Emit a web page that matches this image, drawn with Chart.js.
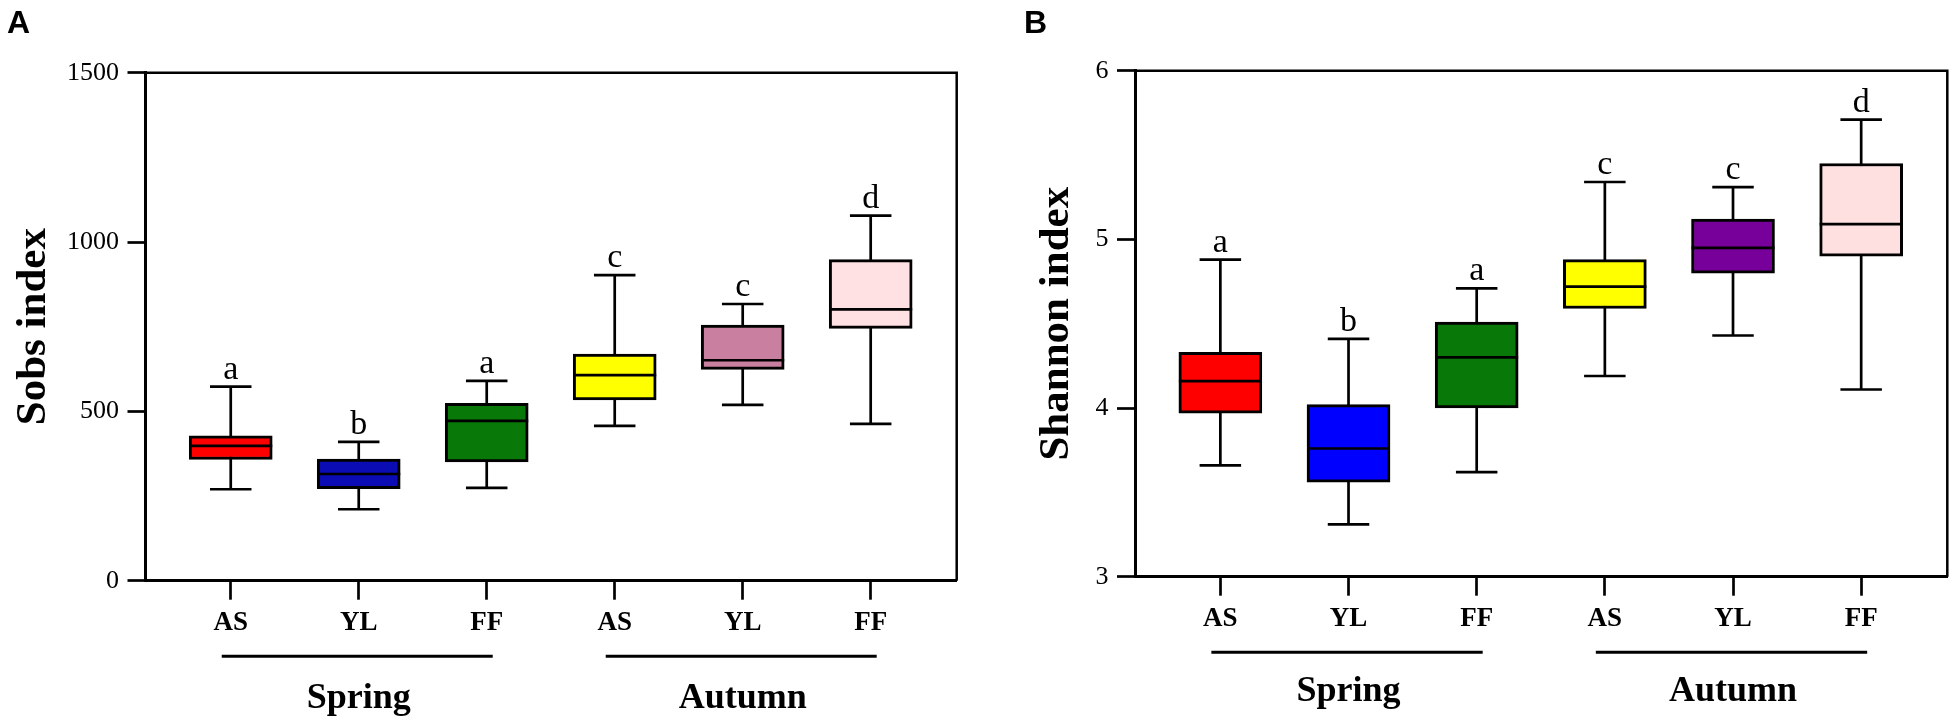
<!DOCTYPE html>
<html>
<head>
<meta charset="utf-8">
<script src="https://cdn.jsdelivr.net/npm/chart.js@4.4.0/dist/chart.umd.min.js"></script>
<style>
  body { margin: 0; background: #fff; }
  #wrap { position: relative; width: 1955px; height: 719px; overflow: hidden; background: #fff; }
  .panel { position: absolute; top: 0; }
  .tag { position: absolute; top: 6px; font: bold 32px "Liberation Sans", Arial, sans-serif; line-height: 32px; color: #000; }
</style>
</head>
<body>
<div id="wrap">
  <div class="panel" style="left:0px"><canvas id="chart-a" width="980" height="719"></canvas></div>
  <div class="panel" style="left:980px"><canvas id="chart-b" width="975" height="719"></canvas></div>
  <div class="tag" style="left:7px">A</div>
  <div class="tag" style="left:1024px">B</div>
</div>
<script>
// Nhóm mẫu và mùa
const groups = ["AS", "YL", "FF", "AS", "YL", "FF"];
const seasons = ["Spring", "Autumn"];
const seasonCenter = [1, 4];
const seasonSpan = [[0, 2], [3, 5]];

// Sobs index (A)
const sobsMin = [270, 211, 274, 457, 519, 463];
const sobsQ1 = [358, 272, 351, 534, 624, 745];
const sobsMedian = [398, 315, 472, 607, 651, 801];
const sobsQ3 = [428, 359, 524, 669, 755, 948];
const sobsMax = [573, 410, 590, 902, 817, 1078];
const sobsLetters = ["a", "b", "a", "c", "c", "d"];
const sobsTicks = [0, 500, 1000, 1500];
const sobsColors = ["#ff0000", "#0c0cb4", "#087808", "#ffff00", "#c87fa0", "#ffe0e3"];

// Shannon index (B)
const shannonMin = [3.66, 3.31, 3.62, 4.19, 4.43, 4.11];
const shannonQ1 = [3.97, 3.56, 4.00, 4.59, 4.80, 4.90];
const shannonMedian = [4.16, 3.76, 4.30, 4.72, 4.95, 5.09];
const shannonQ3 = [4.33, 4.02, 4.51, 4.88, 5.12, 5.45];
const shannonMax = [4.88, 4.41, 4.71, 5.34, 5.31, 5.71];
const shannonLetters = ["a", "b", "a", "c", "c", "d"];
const shannonTicks = [3, 4, 5, 6];
const shannonColors = ["#ff0000", "#0000ff", "#087808", "#ffff00", "#78009a", "#ffe0e0"];

const serif = '"Liberation Serif", "Times New Roman", serif';
Chart.defaults.font.family = serif;
Chart.defaults.color = "#000";

// Vẽ râu, trung vị, chữ cái và khung
const boxExtras = {
    id: "boxExtras",
    beforeDatasetsDraw(chart, args, opts) {
        const { ctx } = chart;
        const x = chart.scales.x, y = chart.scales.y;
        ctx.save();
        ctx.strokeStyle = "#000";
        ctx.lineWidth = 2.7;
        opts.min.forEach((lo, i) => {
            const px = x.getPixelForValue(i);
            ctx.beginPath();
            ctx.moveTo(px, y.getPixelForValue(lo));
            ctx.lineTo(px, y.getPixelForValue(opts.max[i]));
            ctx.stroke();
        });
        ctx.restore();
    },
    afterDatasetsDraw(chart, args, opts) {
        const { ctx, chartArea } = chart;
        const x = chart.scales.x, y = chart.scales.y;
        const bars = chart.getDatasetMeta(0).data;
        ctx.save();
        ctx.strokeStyle = "#000";
        ctx.fillStyle = "#000";
        ctx.lineWidth = 2.7;
        opts.min.forEach((lo, i) => {
            const px = x.getPixelForValue(i);
            const half = bars[i].width / 2;
            const cap = half / 2;
            [lo, opts.max[i]].forEach(v => {
                const py = y.getPixelForValue(v);
                ctx.beginPath();
                ctx.moveTo(px - cap, py);
                ctx.lineTo(px + cap, py);
                ctx.stroke();
            });
            const pm = y.getPixelForValue(opts.median[i]);
            ctx.beginPath();
            ctx.moveTo(px - half, pm);
            ctx.lineTo(px + half, pm);
            ctx.stroke();
            ctx.font = "34px " + serif;
            ctx.textAlign = "center";
            ctx.textBaseline = "alphabetic";
            ctx.fillText(opts.letters[i], px, y.getPixelForValue(opts.max[i]) - 8);
        });
        // khung trên và phải
        ctx.lineWidth = 2.5;
        ctx.beginPath();
        ctx.moveTo(chartArea.left, chartArea.top);
        ctx.lineTo(chartArea.right, chartArea.top);
        ctx.lineTo(chartArea.right, chartArea.bottom);
        ctx.stroke();
        // gạch dưới theo mùa
        ctx.lineWidth = 3;
        const ly = chartArea.bottom + 75.5;
        seasonSpan.forEach(([a, b]) => {
            ctx.beginPath();
            ctx.moveTo(x.getPixelForValue(a) - 9, ly);
            ctx.lineTo(x.getPixelForValue(b) + 6, ly);
            ctx.stroke();
        });
        ctx.restore();
    }
};

function makeBoxChart(id, cfg) {
    const ctx = document.getElementById(id).getContext("2d");
    return new Chart(ctx, {
        type: "bar",
        data: {
            datasets: [{
                data: groups.map((g, i) => ({ x: i, y: [cfg.q1[i], cfg.q3[i]] })),
                backgroundColor: cfg.colors,
                borderColor: "#000",
                borderWidth: 3,
                borderSkipped: false,
                barThickness: 83,
            }]
        },
        options: {
            responsive: false,
            animation: false,
            layout: { padding: cfg.padding },
            plugins: {
                legend: { display: false },
                tooltip: { enabled: false },
                boxExtras: { min: cfg.min, max: cfg.max, median: cfg.median, letters: cfg.letters },
            },
            scales: {
                x: {
                    type: "linear", min: -0.666, max: 5.672, weight: 0, offset: false,
                    afterFit: s => { s.height = 60; },
                    afterBuildTicks: s => { s.ticks = groups.map((g, i) => ({ value: i })); },
                    ticks: {
                        callback: v => groups[v],
                        color: "#000",
                        font: { size: 27, weight: "bold" },
                        padding: 7.5, maxRotation: 0, autoSkip: false,
                    },
                    grid: { offset: false, drawOnChartArea: false, tickLength: 19, tickWidth: 2.7, tickColor: "#000" },
                    border: { color: "#000", width: 3 },
                },
                x2: {
                    type: "linear", position: "bottom", min: -0.666, max: 5.672, weight: 1, offset: false,
                    afterFit: s => { s.height = cfg.x2Height; },
                    afterBuildTicks: s => { s.ticks = seasonCenter.map(v => ({ value: v })); },
                    ticks: {
                        callback: v => seasons[seasonCenter.indexOf(v)],
                        color: "#000",
                        font: { size: 36, weight: "bold" },
                        padding: cfg.x2Pad, maxRotation: 0, autoSkip: false,
                    },
                    grid: { display: false, offset: false },
                    border: { display: false },
                },
                y: {
                    min: cfg.ticks[0], max: cfg.ticks[cfg.ticks.length - 1],
                    afterFit: s => { s.width = cfg.yWidth; },
                    afterBuildTicks: s => { s.ticks = cfg.ticks.map(v => ({ value: v })); },
                    ticks: { callback: v => String(v), color: "#000", font: { size: 26 }, padding: 8.5 },
                    grid: { drawOnChartArea: false, tickLength: 18, tickWidth: 2.7, tickColor: "#000" },
                    border: { color: "#000", width: 3 },
                    title: {
                        display: true, text: cfg.title, color: "#000",
                        font: { size: 43, weight: "bold" },
                        padding: { top: cfg.titlePad, bottom: 0 },
                    },
                },
            },
        },
        plugins: [boxExtras],
    });
}

const sobsChart = makeBoxChart("chart-a", {
    q1: sobsQ1, q3: sobsQ3, min: sobsMin, max: sobsMax, median: sobsMedian,
    letters: sobsLetters, colors: sobsColors, ticks: sobsTicks,
    title: "Sobs index", titlePad: 8,
    yWidth: 145.5, x2Height: 78.3, x2Pad: 28.8,
    padding: { top: 72.7, right: 23.3, bottom: 0, left: 0 },
});

const shannonChart = makeBoxChart("chart-b", {
    q1: shannonQ1, q3: shannonQ3, min: shannonMin, max: shannonMax, median: shannonMedian,
    letters: shannonLetters, colors: shannonColors, ticks: shannonTicks,
    title: "Shannon index", titlePad: 51,
    yWidth: 155, x2Height: 82.3, x2Pad: 25.5,
    padding: { top: 70.7, right: 7.7, bottom: 0, left: 0 },
});
</script>
</body>
</html>
